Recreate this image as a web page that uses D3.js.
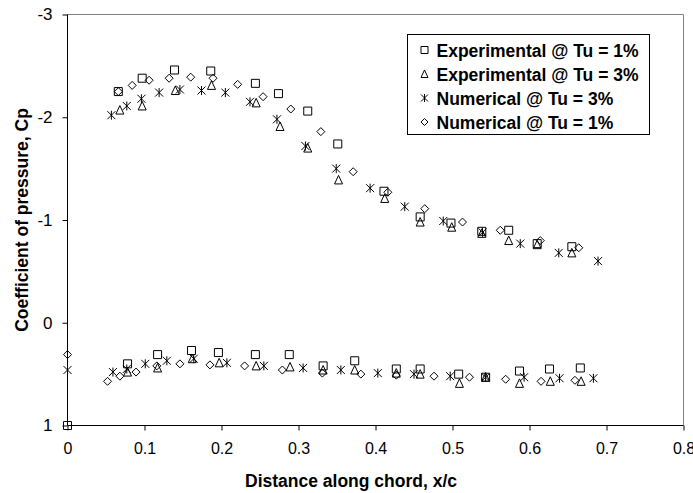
<!DOCTYPE html>
<html>
<head>
<meta charset="utf-8">
<script src="https://cdn.jsdelivr.net/npm/d3@7"></script>
<style>
  body { margin: 0; background: #fff; }
  svg text { font-family: "Liberation Sans", Arial, sans-serif; fill: #000; }
</style>
</head>
<body>
<svg id="chart" width="693" height="493"></svg>
<script>
// Experimental @ Tu = 1% (upper surface then lower surface)
var exp1X = [0.066, 0.097, 0.139, 0.186, 0.244, 0.274, 0.312, 0.351, 0.411, 0.458, 0.498, 0.538, 0.573, 0.61, 0.655,
             0, 0.078, 0.117, 0.161, 0.196, 0.244, 0.288, 0.332, 0.373, 0.427, 0.458, 0.508, 0.543, 0.587, 0.626, 0.666];
var exp1Cp = [-2.25, -2.38, -2.46, -2.45, -2.33, -2.23, -2.06, -1.74, -1.28, -1.03, -0.97, -0.89, -0.90, -0.77, -0.74,
              1.0, 0.40, 0.31, 0.27, 0.29, 0.31, 0.31, 0.42, 0.37, 0.45, 0.45, 0.50, 0.53, 0.47, 0.45, 0.44];

// Experimental @ Tu = 3%
var exp3X = [0.068, 0.097, 0.140, 0.187, 0.245, 0.276, 0.312, 0.352, 0.412, 0.458, 0.499, 0.538, 0.573, 0.61, 0.655,
             0.078, 0.117, 0.162, 0.197, 0.245, 0.289, 0.332, 0.373, 0.427, 0.458, 0.509, 0.543, 0.587, 0.627, 0.667];
var exp3Cp = [-2.07, -2.11, -2.26, -2.31, -2.14, -1.91, -1.70, -1.39, -1.21, -0.98, -0.93, -0.87, -0.80, -0.76, -0.68,
              0.48, 0.44, 0.35, 0.39, 0.42, 0.43, 0.46, 0.46, 0.49, 0.50, 0.59, 0.53, 0.59, 0.57, 0.57];

// Numerical @ Tu = 3%
var num3X = [0.057, 0.077, 0.096, 0.119, 0.146, 0.174, 0.205, 0.237, 0.272, 0.309, 0.349, 0.393, 0.438, 0.488, 0.539, 0.588, 0.638, 0.689,
             0, 0.059, 0.077, 0.101, 0.129, 0.164, 0.207, 0.255, 0.306, 0.355, 0.403, 0.45, 0.497, 0.543, 0.593, 0.639, 0.683];
var num3Cp = [-2.02, -2.11, -2.18, -2.24, -2.27, -2.26, -2.24, -2.15, -1.98, -1.72, -1.50, -1.31, -1.13, -0.99, -0.88, -0.77, -0.68, -0.60,
              0.46, 0.48, 0.45, 0.40, 0.37, 0.35, 0.39, 0.42, 0.44, 0.46, 0.49, 0.50, 0.52, 0.53, 0.53, 0.54, 0.54];

// Numerical @ Tu = 1%
var num1X = [0.066, 0.084, 0.106, 0.132, 0.160, 0.189, 0.221, 0.254, 0.29, 0.329, 0.371, 0.416, 0.464, 0.513, 0.562, 0.614, 0.664,
             0, 0.052, 0.068, 0.089, 0.116, 0.146, 0.185, 0.230, 0.279, 0.331, 0.381, 0.427, 0.476, 0.522, 0.569, 0.615, 0.659];
var num1Cp = [-2.25, -2.31, -2.36, -2.38, -2.39, -2.38, -2.32, -2.20, -2.08, -1.86, -1.47, -1.27, -1.11, -0.98, -0.90, -0.80, -0.73,
              0.31, 0.57, 0.52, 0.48, 0.42, 0.40, 0.41, 0.42, 0.46, 0.49, 0.50, 0.51, 0.52, 0.53, 0.55, 0.57, 0.56];

var seriesNames = ["Experimental @ Tu = 1%", "Experimental @ Tu = 3%", "Numerical @ Tu = 3%", "Numerical @ Tu = 1%"];
var xTicks = [0, 0.1, 0.2, 0.3, 0.4, 0.5, 0.6, 0.7, 0.8];
var yTicks = [-3, -2, -1, 0, 1];

var svg = d3.select("#chart");

// plot area edges (window.top is reserved, so use other names)
var plotLeft = 67.5, plotRight = 683.5, plotTop = 14.5, plotBottom = 425.5;

var x = d3.scaleLinear().domain([0, 0.8]).range([plotLeft, plotRight]);
var y = d3.scaleLinear().domain([-3, 1]).range([plotTop, plotBottom]);

// marker shapes
function markerPath(kind, s) {
    if (kind == "square") return "M" + (-s) + "," + (-s) + "h" + (2 * s) + "v" + (2 * s) + "h" + (-2 * s) + "Z";
    if (kind == "triangle") return "M0," + (-s - 0.5) + "L" + s + "," + s + "L" + (-s) + "," + s + "Z";
    if (kind == "diamond") return "M0," + (-s) + "L" + s + ",0L0," + s + "L" + (-s) + ",0Z";
    // star: X with a vertical bar
    return "M" + (-s) + "," + (-s) + "L" + s + "," + s + "M" + (-s) + "," + s + "L" + s + "," + (-s) +
        "M0," + (-s - 0.5) + "L0," + (s + 0.5);
}

var series = [
    { name: seriesNames[0], kind: "square", xs: exp1X, ys: exp1Cp },
    { name: seriesNames[1], kind: "triangle", xs: exp3X, ys: exp3Cp },
    { name: seriesNames[2], kind: "star", xs: num3X, ys: num3Cp },
    { name: seriesNames[3], kind: "diamond", xs: num1X, ys: num1Cp }
];

// frame: gray top and right
svg.append("path")
    .attr("d", "M" + plotLeft + "," + plotTop + "H" + plotRight + "V" + plotBottom)
    .style("fill", "none")
    .style("stroke", "#808080");

// x axis
var xAxis = svg.append("g")
    .attr("transform", "translate(0," + plotBottom + ")")
    .call(d3.axisBottom(x).tickValues(xTicks).tickSize(5).tickPadding(12)
        .tickFormat(function(d) { return d === 0 ? "0" : d.toFixed(1); }));
xAxis.select(".domain").attr("d", "M" + plotLeft + ",0H" + plotRight).style("stroke", "#000");
xAxis.selectAll("text").style("font-size", "16px").style("font-family", "Liberation Sans, Arial, sans-serif");

// y axis (plain hyphen for negatives, like the original)
var yAxis = svg.append("g")
    .attr("transform", "translate(" + plotLeft + ",0)")
    .call(d3.axisLeft(y).tickValues(yTicks).tickSize(5).tickPadding(10)
        .tickFormat(function(d) { return String(d); }));
yAxis.select(".domain").attr("d", "M0," + plotTop + "V" + plotBottom).style("stroke", "#000");
yAxis.selectAll("text").style("font-size", "17px").style("font-family", "Liberation Sans, Arial, sans-serif");

// axis titles
svg.append("text")
    .attr("x", 351)
    .attr("y", 487)
    .attr("text-anchor", "middle")
    .style("font-size", "17.5px")
    .style("font-weight", "bold")
    .text("Distance along chord, x/c");

svg.append("text")
    .attr("transform", "translate(28,220) rotate(-90)")
    .attr("text-anchor", "middle")
    .style("font-size", "17.5px")
    .style("font-weight", "bold")
    .text("Coefficient of pressure, Cp");

// points
series.forEach(function(s) {
    var pts = s.xs.map(function(v, i) { return [v, s.ys[i]]; });
    svg.selectAll(".pt-" + s.kind)
        .data(pts)
        .enter().append("path")
        .attr("class", "pt-" + s.kind)
        .attr("transform", function(d) { return "translate(" + x(d[0]) + "," + y(d[1]) + ")"; })
        .attr("d", markerPath(s.kind, 4))
        .style("fill", "none")
        .style("stroke", "#000")
        .style("stroke-width", 1);
});

// legend
var legend = svg.append("g").attr("transform", "translate(407.5,34.5)");
legend.append("rect")
    .attr("width", 242)
    .attr("height", 100)
    .style("fill", "#fff")
    .style("stroke", "#000");

series.forEach(function(s, i) {
    var row = legend.append("g").attr("transform", "translate(0," + (15.5 + i * 24) + ")");
    row.append("path")
        .attr("transform", "translate(17,0)")
        .attr("d", markerPath(s.kind, 3.5))
        .style("fill", "none")
        .style("stroke", "#000");
    row.append("text")
        .attr("x", 29)
        .attr("y", 6.5)
        .style("font-size", "17.5px")
        .style("font-weight", "bold")
        .text(s.name);
});
</script>
</body>
</html>
